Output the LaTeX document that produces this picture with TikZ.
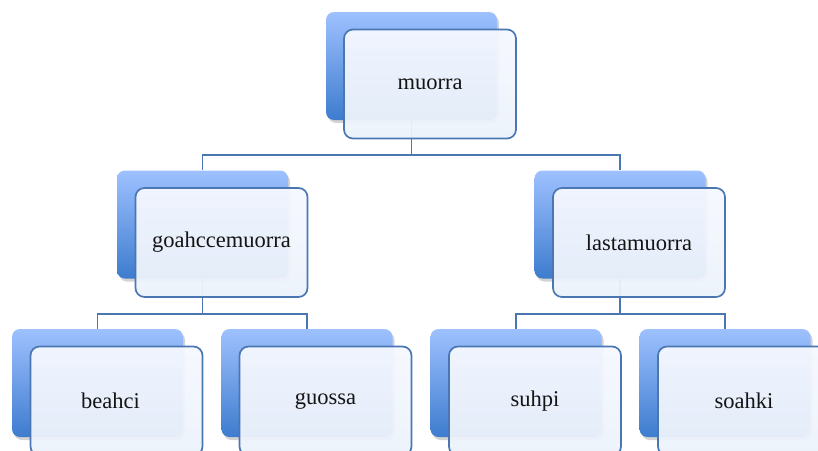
\documentclass[tikz,border=0pt]{standalone}
\usepackage{fontspec}
\setmainfont{Liberation Serif}
\usetikzlibrary{shadows}
\definecolor{lineblue}{RGB}{74,118,178}
\definecolor{backtop}{RGB}{158,193,255}
\definecolor{backbot}{RGB}{62,124,206}
\definecolor{fronttop}{RGB}{245,248,255}
\definecolor{frontbot}{RGB}{236,242,251}
\definecolor{txt}{RGB}{20,20,20}
\tikzset{
  x=1pt, y=-1pt,
  backbox/.style={rectangle, rounded corners=8pt, minimum width=171pt, minimum height=108pt,
    top color=backtop, bottom color=backbot, draw=none,
    drop shadow={opacity=0.35, shadow xshift=2pt, shadow yshift=-3pt}},
  frontbox/.style={rectangle, rounded corners=9pt, minimum width=172pt, minimum height=109pt,
    draw=lineblue, line width=1.7pt, top color=fronttop, bottom color=frontbot, fill opacity=0.95,
    text opacity=1, text=txt, font=\fontsize{22.5}{26}\selectfont},
  conn/.style={draw=lineblue, line width=1.7pt},
}
\begin{document}
\begin{tikzpicture}
\useasboundingbox (0,0) rectangle (818,450);
% back boxes
\node[backbox] (b0) at (411.5,66) {};
\node[backbox] (b1) at (202.5,224.5) {};
\node[backbox] (b2) at (620,224.5) {};
\node[backbox] (b3) at (97.5,383) {};
\node[backbox] (b4) at (307,383) {};
\node[backbox] (b5) at (516,383) {};
\node[backbox] (b6) at (725,383) {};
% connectors
\draw[conn] (b0.south) -- ++(0,35) -| (b1.north);
\draw[conn] (b0.south) -- ++(0,35) -| (b2.north);
\draw[conn] (b1.south) -- ++(0,35) -| (b3.north);
\draw[conn] (b1.south) -- ++(0,35) -| (b4.north);
\draw[conn] (b2.south) -- ++(0,35) -| (b5.north);
\draw[conn] (b2.south) -- ++(0,35) -| (b6.north);
% front boxes
\node[frontbox] (f0) at (430,84) {muorra};
\node[frontbox] (f1) at (221.5,242.5) {goahccemuorra};
\node[frontbox] (f2) at (639,242.5) {lastamuorra};
\node[frontbox] (f3) at (116.5,401) {\hspace*{-12pt}beahci};
\node[frontbox] (f4) at (325.5,401) {guossa};
\node[frontbox] (f5) at (535,401) {suhpi};
\node[frontbox] (f6) at (744,401) {soahki};
\end{tikzpicture}
\end{document}
